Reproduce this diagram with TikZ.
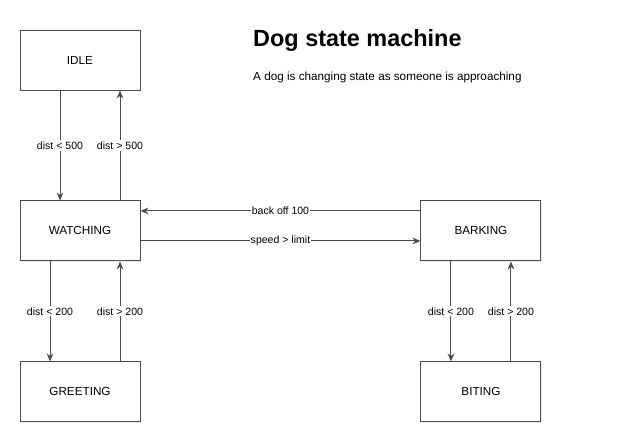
\documentclass[tikz,border=0pt]{standalone}
\usepackage{fontspec}
\setmainfont{Liberation Sans}
\usetikzlibrary{arrows.meta,positioning,shadows}

\begin{document}
\begin{tikzpicture}[
  x=0.03cm, y=-0.03cm,
  >={Stealth[length=2.4mm,width=2mm]},
  font=\fontsize{10}{12}\selectfont,
  state/.style={draw=black!70,line width=0.8pt,fill=white,
    minimum width=3.6cm,minimum height=1.8cm,inner sep=0pt,
    drop shadow={opacity=0.15,shadow xshift=0.8pt,shadow yshift=-0.8pt}},
  lbl/.style={fill=white,inner sep=1pt,font=\fontsize{9}{11}\selectfont},
  arr/.style={->,draw=black!70,line width=0.8pt}
]
\useasboundingbox (0,0) rectangle (627,447);
\node[state] (idle) at (80,60) {IDLE};
\node[state,below=3.3cm of idle] (watch) {WATCHING};
\node[state,below=3cm of watch] (greet) {GREETING};
\node[state,right=8.4cm of watch] (bark) {BARKING};
\node[state,below=3cm of bark] (bite) {BITING};

\node[anchor=west,inner sep=0pt,font=\fontsize{20}{24}\selectfont\bfseries] (title) at (253,40) {Dog state machine};
\node[anchor=west,inner sep=0pt] (sub) at (253,77) {A dog is changing state as someone is approaching};

\draw[arr] ([xshift=-6mm]idle.south) -- node[lbl]{dist < 500} ([xshift=-6mm]watch.north);
\draw[arr] ([xshift=12mm]watch.north) -- node[lbl]{dist > 500} ([xshift=12mm]idle.south);
\draw[arr] ([xshift=-9mm]watch.south) -- node[lbl]{dist < 200} ([xshift=-9mm]greet.north);
\draw[arr] ([xshift=12mm]greet.north) -- node[lbl]{dist > 200} ([xshift=12mm]watch.south);
\draw[arr] ([xshift=-9mm]bark.south) -- node[lbl]{dist < 200} ([xshift=-9mm]bite.north);
\draw[arr] ([xshift=9mm]bite.north) -- node[lbl]{dist > 200} ([xshift=9mm]bark.south);
\draw[arr] ([yshift=6mm]bark.west) -- node[lbl]{back off 100} ([yshift=6mm]watch.east);
\draw[arr] ([yshift=-3mm]watch.east) -- node[lbl]{speed > limit} ([yshift=-3mm]bark.west);
\end{tikzpicture}
\end{document}
